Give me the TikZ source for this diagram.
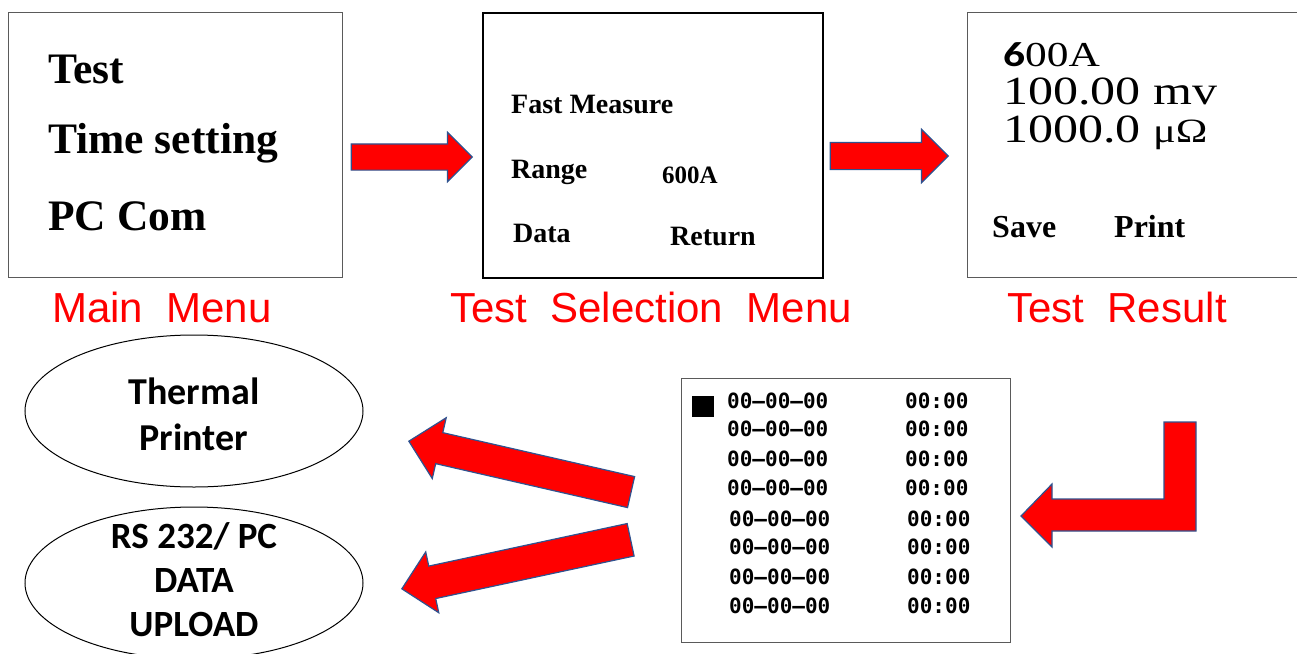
\documentclass[tikz,border=0pt]{standalone}
\usepackage{graphicx}
\usepackage{fontspec}
\setmainfont{Liberation Serif}
\newfontfamily\capfont{Liberation Sans}
\newfontfamily\calfont{Carlito}
\newfontfamily\lcdfont{DejaVu Sans Mono}
\usetikzlibrary{positioning}
\usetikzlibrary{shapes.geometric,shapes.arrows}
\definecolor{arrowred}{HTML}{FF0000}
\definecolor{arrowline}{HTML}{2F528F}
\definecolor{boxgray}{HTML}{5A5A5A}

\begin{document}
\begin{tikzpicture}[x=1pt,y=-1pt,
		menubox/.style={draw=boxgray, line width=1.3pt, anchor=north west, inner sep=0pt, minimum height=265pt},
		menutext/.style={anchor=base west, inner sep=0pt, font=\fontsize{43.5}{50}\selectfont\bfseries},
		seltext/.style={anchor=base west, inner sep=0pt, font=\fontsize{28}{34}\selectfont\bfseries},
		restext/.style={anchor=base west, inner sep=0pt, font=\fontsize{40}{48}\selectfont},
		caption/.style={anchor=base, text=red, inner sep=0pt, font=\capfont\fontsize{42}{50}\selectfont},
		datetext/.style={anchor=west, inner sep=0pt, font=\lcdfont\fontsize{21}{25}\selectfont\bfseries},
		outbox/.style={ellipse, draw, line width=1pt, minimum width=338pt, minimum height=152pt, inner sep=0pt},
		outtext/.style={align=center, inner sep=0pt, font=\calfont\fontsize{38}{46}\selectfont\bfseries},
		bigarrow/.style={fill=arrowred, draw=arrowline, line width=1.2pt, line join=miter},
		flatarrow/.style={bigarrow, single arrow, anchor=tip, inner xsep=0pt, shape border uses incircle=false}]

	\useasboundingbox (0,0) rectangle (1297,653);

	\node[menubox, minimum width=334pt] (mainmenu) at (8,12) {};
	\node[menutext] (test) at (48,83) {Test};
	\node[menutext] (timeset) at (48,153) {Time setting};
	\node[menutext] (pccom) at (48,230) {PC Com};

	\node[menubox, draw=black, line width=2pt, minimum width=340pt] (selmenu) at (482,12) {};
	\node[seltext] (fast) at (511,113) {Fast Measure};
	\node[seltext] (range) at (511,178) {Range};
	\node[seltext, font=\fontsize{25}{30}\selectfont\bfseries] (rangeval) at (662,183) {600A};
	\node[seltext] (data) at (513,242) {Data};
	\node[seltext] (return) at (670,245) {Return};

	\node[menubox, minimum width=345pt] (result) at (967,12) {};
	\node[restext, font=\fontsize{35}{42}\selectfont] (amps) at (1003,66) {\scalebox{1.24}[1]{{\calfont\bfseries 6}00A}};
	\node[restext] (volts) at (1003,104) {\scalebox{1.25}[1]{100.00 mv}};
	\node[restext] (ohms) at (1003,142) {\scalebox{1.25}[1]{1000.0 {\fontsize{34}{40}\selectfont μΩ}}};
	\node[seltext, font=\fontsize{32}{38}\selectfont\bfseries] (save) at (992,237) {Save};
	\node[seltext, font=\fontsize{32}{38}\selectfont\bfseries] (print) at (1114,237) {Print};

	\node[caption] (maincap) at (162,322) {Main~~Menu};
	\node[caption] (selcap) at (651,322) {Test~~Selection~~Menu};
	\node[caption] (rescap) at (1117,322) {Test~~Result};

	\node[flatarrow, minimum height=121pt, minimum width=48pt, inner ysep=12.5pt, single arrow head extend=11.5pt] (go1) at (473,157) {};
	\node[flatarrow, minimum height=118pt, minimum width=52pt, inner ysep=13pt, single arrow head extend=13pt] (go2) at (949,156) {};

	\node[menubox, minimum width=329pt, minimum height=264pt] (datalist) at (681,378) {};
	\node[fill=black, inner sep=0pt, minimum width=22pt, minimum height=21pt, anchor=north west] (cursor) at (692,396) {};
	\foreach \yy/\dx [count=\i] in {401/0,429/0,459/0,488/0,519/2,547/2,577/2,606/2}{
		\node[datetext] (date\i) at (727+\dx,\yy) {00–00–00};
		\node[datetext] (time\i) at (905+\dx,\yy) {00:00};
	}

	\draw[bigarrow] (1164,422) -- (1196,422) -- (1196,531) -- (1052,531) -- (1052,547)
		-- (1021,516) -- (1052,484) -- (1052,499) -- (1164,499) -- cycle;

	\node[flatarrow, rotate=167.1, minimum height=228pt, minimum width=61pt, inner ysep=15.3pt, single arrow head extend=15.3pt] (toprinter) at (408,441) {};
	\node[flatarrow, rotate=192.1, minimum height=234pt, minimum width=61pt, inner ysep=16pt, single arrow head extend=14.5pt] (topc) at (401,589) {};

	\node[outbox] (printer) at (194,411) {};
	\node[outtext] (printertext) at (194,414) {Thermal\\Printer};
	\node[outbox] (upload) at (194,583) {};
	\node[outtext, font=\calfont\fontsize{37}{44}\selectfont\bfseries] (uploadtext) at (194,580) {RS 232/ PC\\DATA\\UPLOAD};
\end{tikzpicture}
\end{document}
